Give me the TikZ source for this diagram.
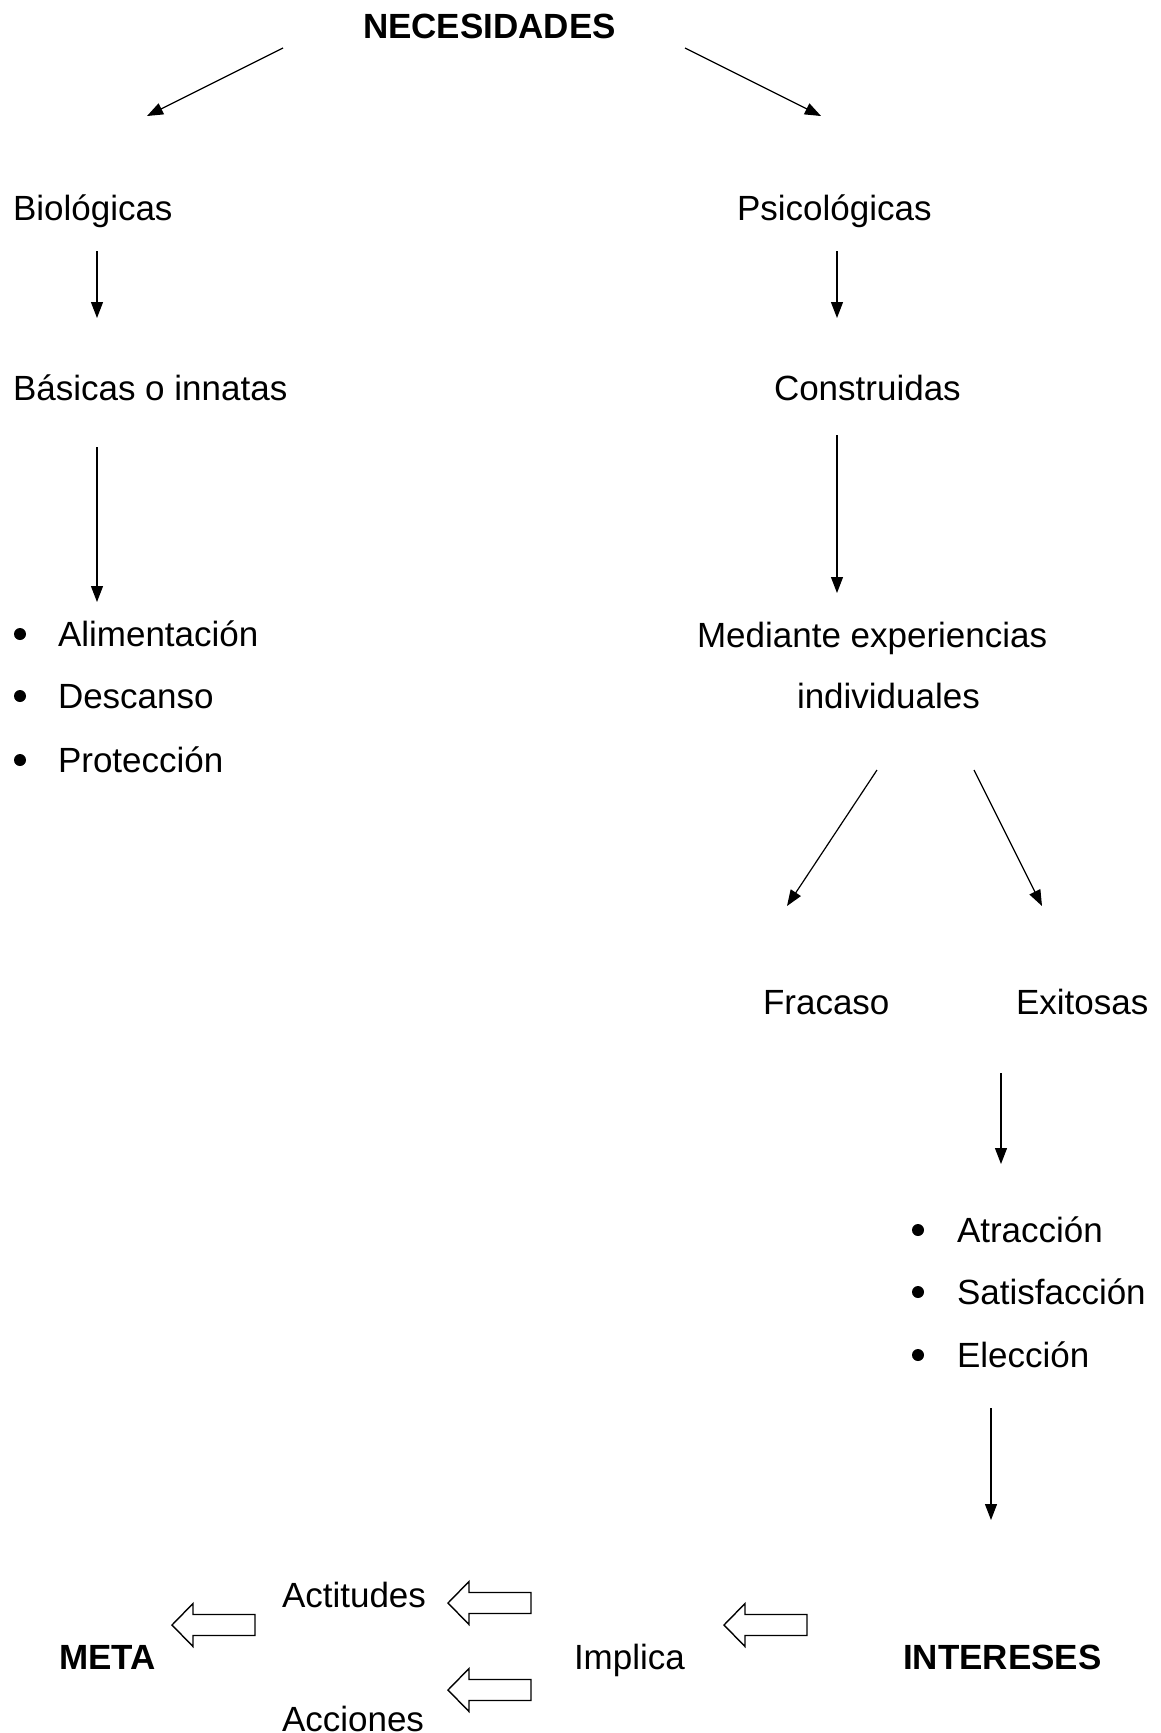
\documentclass[tikz,border=0pt]{standalone}
\usepackage{fontspec}
\setmainfont{Liberation Sans}
\usetikzlibrary{arrows.meta}
\tikzset{
  lbl/.style={inner sep=0pt, outer sep=0pt, anchor=base west, font=\fontsize{35}{42}\selectfont},
  blbl/.style={lbl, font=\fontsize{35}{42}\selectfont\bfseries},
  conn/.style={-{Triangle[length=16pt,width=12pt]}, line width=1.2pt},
  bulletdot/.style={circle, fill=black, inner sep=0pt, minimum size=12pt},
  pics/hollowarrow/.style={code={
    \draw[line width=1.4pt, line join=miter, fill=white]
      (0,0) -- (21,-21.5) -- (21,-10.5) -- (83,-10.5) -- (83,10.5) -- (21,10.5) -- (21,21.5) -- cycle;
  }}
}
\begin{document}
\begin{tikzpicture}[x=1pt,y=-1pt]
\useasboundingbox (0,0) rectangle (1160,1733);
\fill[white] (0,0) rectangle (1160,1733);

% text nodes
\node[blbl] (nec) at (363,38) {NECESIDADES};
\node[lbl] (bio) at (13,220) {Biológicas};
\node[lbl] (psi) at (737,220) {Psicológicas};
\node[lbl] (bas) at (13,400) {Básicas o innatas};
\node[lbl] (con) at (774,400) {Construidas};

\node[bulletdot] (b1) at (20,634) {};
\node[bulletdot] (b2) at (20,696) {};
\node[bulletdot] (b3) at (20,760) {};
\node[lbl] (ali) at (58,646) {Alimentación};
\node[lbl] (des) at (58,708) {Descanso};
\node[lbl] (pro) at (58,772) {Protección};

\node[lbl] (med) at (697,647) {Mediante experiencias};
\node[lbl] (ind) at (797,708) {individuales};

\node[lbl] (fra) at (763,1014) {Fracaso};
\node[lbl] (exi) at (1016,1014) {Exitosas};

\node[bulletdot] (b4) at (918,1230) {};
\node[bulletdot] (b5) at (918,1292) {};
\node[bulletdot] (b6) at (918,1355) {};
\node[lbl] (atr) at (957,1242) {Atracción};
\node[lbl] (sat) at (957,1304) {Satisfacción};
\node[lbl] (ele) at (957,1367) {Elección};

\node[lbl] (act) at (282,1607) {Actitudes};
\node[blbl] (meta) at (59,1669) {META};
\node[lbl] (imp) at (574,1669) {Implica};
\node[blbl] (int) at (903,1669) {INTERESES};
\node[lbl] (acc) at (282,1731) {Acciones};

% connector end points
\coordinate (a1s) at (283,48);   \coordinate (a1e) at (147,116);
\coordinate (a2s) at (685,48);   \coordinate (a2e) at (821,116);
\coordinate (a3s) at (97,251);   \coordinate (a3e) at (97,318);
\coordinate (a4s) at (837,251);  \coordinate (a4e) at (837,318);
\coordinate (a5s) at (97,447);   \coordinate (a5e) at (97,602);
\coordinate (a6s) at (837,435);  \coordinate (a6e) at (837,593);
\coordinate (a7s) at (877,770);  \coordinate (a7e) at (787,906);
\coordinate (a8s) at (974,770);  \coordinate (a8e) at (1042,906);
\coordinate (a9s) at (1001,1073); \coordinate (a9e) at (1001,1164);
\coordinate (a10s) at (991,1408); \coordinate (a10e) at (991,1520);

\draw[conn] (a1s) -- (a1e);
\draw[conn] (a2s) -- (a2e);
\draw[conn] (a3s) -- (a3e);
\draw[conn] (a4s) -- (a4e);
\draw[conn] (a5s) -- (a5e);
\draw[conn] (a6s) -- (a6e);
\draw[conn] (a7s) -- (a7e);
\draw[conn] (a8s) -- (a8e);
\draw[conn] (a9s) -- (a9e);
\draw[conn] (a10s) -- (a10e);

% hollow block arrows
\pic (hup) at (448,1603) {hollowarrow};
\pic (hlo) at (448,1690) {hollowarrow};
\pic (hmeta) at (172,1625) {hollowarrow};
\pic (hint) at (724,1625) {hollowarrow};
\end{tikzpicture}
\end{document}
